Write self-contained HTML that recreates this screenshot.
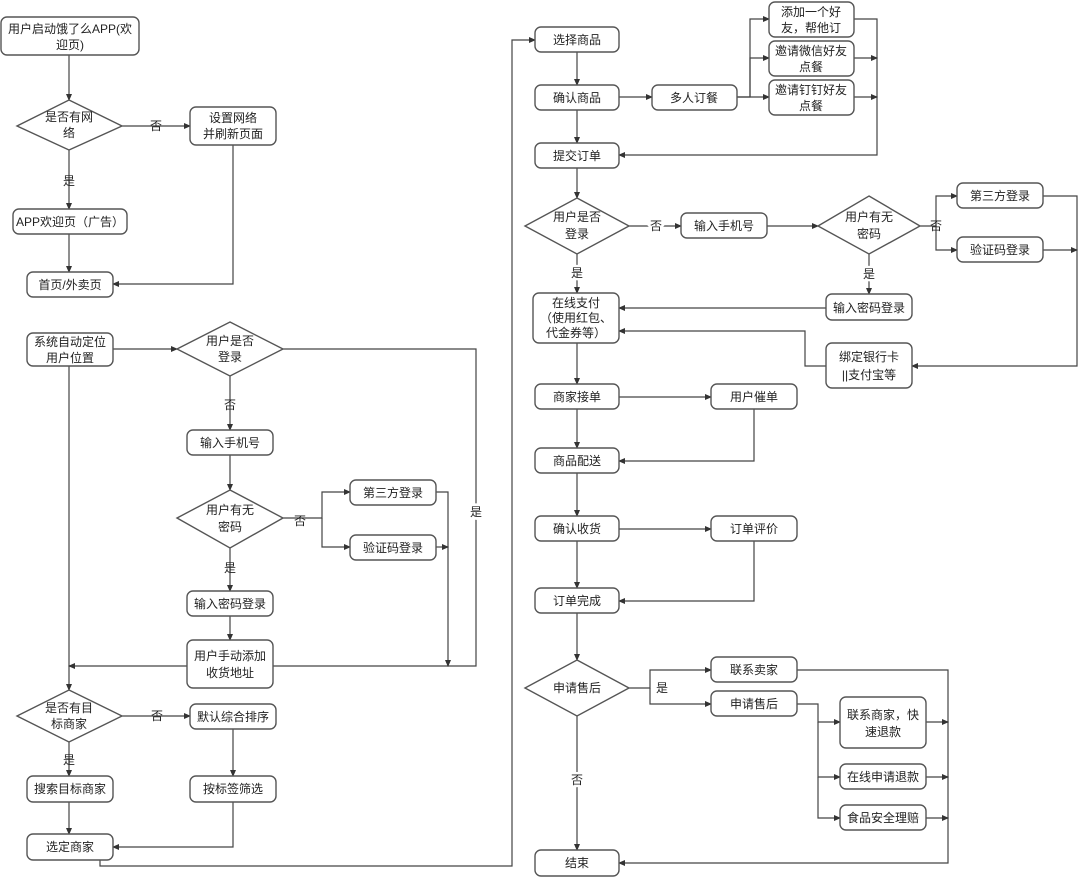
<!DOCTYPE html>
<html><head><meta charset="utf-8"><style>
html,body{margin:0;padding:0;background:#fff;}
svg{display:block}
text{font-family:"Liberation Sans","Noto Sans CJK SC",sans-serif;font-size:12px;fill:#222;text-anchor:middle;dominant-baseline:central}
.b{fill:#fff;stroke:#555;stroke-width:1.4}
.l{fill:none;stroke:#444;stroke-width:1.2}
</style></head><body>
<svg width="1080" height="878" viewBox="0 0 1080 878" xmlns="http://www.w3.org/2000/svg">
<defs><marker id="a" markerWidth="7" markerHeight="7" refX="6" refY="3.5" orient="auto" markerUnits="userSpaceOnUse"><path d="M0,0.5 L7,3.5 L0,6.5z" fill="#333"/></marker></defs>

<!-- connectors left -->
<g class="l" marker-end="url(#a)">
<path d="M69,55 V100"/>
<path d="M122,126 H190"/>
<path d="M69,150 V209"/>
<path d="M69,234 V272"/>
<path d="M233,145 V284 H113"/>
<path d="M113,349 H177"/>
<path d="M230,376 V430"/>
<path d="M230,455 V490"/>
<path d="M283,518 H322 V492 H350"/>
<path d="M322,518 V547 H350"/>
<path d="M230,548 V591"/>
<path d="M230,616 V640"/>
<path d="M69,366 V690"/>
<path d="M283,349 H476 V666 H69"/>
<path d="M436,492 H448 V666"/>
<path d="M436,547 H448"/>
<path d="M122,716 H190"/>
<path d="M69,742 V776"/>
<path d="M233,729 V776"/>
<path d="M69,802 V834"/>
<path d="M233,802 V847 H113"/>
<path d="M100,860 V866 H512 V40 H535"/>
</g>
<!-- connectors right -->
<g class="l" marker-end="url(#a)">
<path d="M577,52 V85"/>
<path d="M619,97 H652"/>
<path d="M737,97 H750 V19 H769"/>
<path d="M750,97 V58 H769"/>
<path d="M737,97 H769"/>
<path d="M854,19 H877 V155 H619"/>
<path d="M854,58 H877"/>
<path d="M854,97 H877"/>
<path d="M577,110 V143"/>
<path d="M577,168 V198"/>
<path d="M629,226 H681"/>
<path d="M767,226 H818"/>
<path d="M920,226 H936 V196 H957"/>
<path d="M936,226 V250 H957"/>
<path d="M869,254 V294"/>
<path d="M577,254 V293"/>
<path d="M826,308 H619"/>
<path d="M1043,196 H1077 V366 H912"/>
<path d="M1043,250 H1077"/>
<path d="M826,366 H805 V331 H619"/>
<path d="M577,343 V384"/>
<path d="M619,397 H711"/>
<path d="M754,409 V461 H619"/>
<path d="M577,409 V448"/>
<path d="M577,473 V516"/>
<path d="M619,529 H711"/>
<path d="M754,541 V601 H619"/>
<path d="M577,541 V588"/>
<path d="M577,613 V660"/>
<path d="M629,688 H650 V670 H711"/>
<path d="M650,688 V704 H711"/>
<path d="M797,704 H818 V722 H840"/>
<path d="M818,722 V777 H840"/>
<path d="M818,777 V818 H840"/>
<path d="M577,716 V850"/>
<path d="M797,670 H948 V863 H619"/>
<path d="M926,722 H948"/>
<path d="M926,777 H948"/>
<path d="M926,818 H948"/>
</g>

<!-- left nodes -->
<rect class="b" x="1" y="17" width="138" height="38" rx="6"/><text x="70" y="29">用户启动饿了么APP(欢</text><text x="70" y="45">迎页)</text>
<polygon class="b" points="69,100 122,126 69,150 17,126"/><text x="69" y="117">是否有网</text><text x="69" y="133">络</text>
<text x="156" y="126" style="fill:#222">否</text>
<rect class="b" x="190" y="107" width="86" height="38" rx="6"/><text x="233" y="118">设置网络</text><text x="233" y="134">并刷新页面</text>
<text x="69" y="181">是</text>
<rect class="b" x="13" y="209" width="114" height="25" rx="6"/><text x="70" y="222">APP欢迎页（广告）</text>
<rect class="b" x="27" y="272" width="86" height="25" rx="6"/><text x="70" y="285">首页/外卖页</text>
<rect class="b" x="27" y="333" width="86" height="33" rx="6"/><text x="70" y="342">系统自动定位</text><text x="70" y="358">用户位置</text>
<polygon class="b" points="230,322 283,349 230,376 177,349"/><text x="230" y="341">用户是否</text><text x="230" y="357">登录</text>
<text x="230" y="405">否</text>
<rect class="b" x="187" y="430" width="86" height="25" rx="6"/><text x="230" y="443">输入手机号</text>
<polygon class="b" points="230,490 283,518 230,548 177,518"/><text x="230" y="510">用户有无</text><text x="230" y="527">密码</text>
<text x="300" y="521">否</text>
<rect class="b" x="350" y="480" width="86" height="25" rx="6"/><text x="393" y="493">第三方登录</text>
<rect class="b" x="350" y="535" width="86" height="25" rx="6"/><text x="393" y="548">验证码登录</text>
<text x="476" y="512" style="stroke:#fff;stroke-width:6;paint-order:stroke">是</text>
<text x="230" y="568">是</text>
<rect class="b" x="187" y="591" width="86" height="25" rx="6"/><text x="230" y="604">输入密码登录</text>
<rect class="b" x="187" y="640" width="86" height="48" rx="6"/><text x="230" y="656">用户手动添加</text><text x="230" y="673">收货地址</text>
<polygon class="b" points="69,690 122,716 69,742 17,716"/><text x="69" y="708">是否有目</text><text x="69" y="724">标商家</text>
<text x="157" y="716">否</text>
<rect class="b" x="190" y="704" width="86" height="25" rx="6"/><text x="233" y="717">默认综合排序</text>
<text x="69" y="760">是</text>
<rect class="b" x="27" y="776" width="86" height="26" rx="6"/><text x="70" y="789">搜索目标商家</text>
<rect class="b" x="190" y="776" width="86" height="26" rx="6"/><text x="233" y="789">按标签筛选</text>
<rect class="b" x="27" y="834" width="86" height="26" rx="6"/><text x="70" y="847">选定商家</text>

<!-- right nodes -->
<rect class="b" x="535" y="27" width="84" height="25" rx="6"/><text x="577" y="40">选择商品</text>
<rect class="b" x="535" y="85" width="84" height="25" rx="6"/><text x="577" y="98">确认商品</text>
<rect class="b" x="652" y="85" width="85" height="25" rx="6"/><text x="694" y="98">多人订餐</text>
<rect class="b" x="769" y="2" width="85" height="35" rx="6"/><text x="811" y="12">添加一个好</text><text x="811" y="28">友，帮他订</text>
<rect class="b" x="769" y="41" width="85" height="35" rx="6"/><text x="811" y="51">邀请微信好友</text><text x="811" y="67">点餐</text>
<rect class="b" x="769" y="80" width="85" height="35" rx="6"/><text x="811" y="90">邀请钉钉好友</text><text x="811" y="106">点餐</text>
<rect class="b" x="535" y="143" width="84" height="25" rx="6"/><text x="577" y="156">提交订单</text>
<polygon class="b" points="577,198 629,226 577,254 525,226"/><text x="577" y="217">用户是否</text><text x="577" y="234">登录</text>
<text x="656" y="226" style="stroke:#fff;stroke-width:5;paint-order:stroke">否</text>
<rect class="b" x="681" y="213" width="86" height="25" rx="6"/><text x="724" y="226">输入手机号</text>
<polygon class="b" points="869,196 920,226 869,254 818,226"/><text x="869" y="217">用户有无</text><text x="869" y="234">密码</text>
<text x="936" y="226">否</text>
<rect class="b" x="957" y="183" width="86" height="25" rx="6"/><text x="1000" y="196">第三方登录</text>
<rect class="b" x="957" y="237" width="86" height="25" rx="6"/><text x="1000" y="250">验证码登录</text>
<text x="577" y="273" style="stroke:#fff;stroke-width:5;paint-order:stroke">是</text>
<text x="869" y="274" style="stroke:#fff;stroke-width:5;paint-order:stroke">是</text>
<rect class="b" x="826" y="294" width="86" height="26" rx="6"/><text x="869" y="308">输入密码登录</text>
<rect class="b" x="533" y="293" width="86" height="50" rx="6"/><text x="576" y="303">在线支付</text><text x="576" y="318">（使用红包、</text><text x="576" y="333">代金券等）</text>
<rect class="b" x="826" y="343" width="86" height="45" rx="6"/><text x="869" y="357">绑定银行卡</text><text x="869" y="375">||支付宝等</text>
<rect class="b" x="535" y="384" width="84" height="25" rx="6"/><text x="577" y="397">商家接单</text>
<rect class="b" x="711" y="384" width="86" height="25" rx="6"/><text x="754" y="397">用户催单</text>
<rect class="b" x="535" y="448" width="84" height="25" rx="6"/><text x="577" y="461">商品配送</text>
<rect class="b" x="535" y="516" width="84" height="25" rx="6"/><text x="577" y="529">确认收货</text>
<rect class="b" x="711" y="516" width="86" height="25" rx="6"/><text x="754" y="529">订单评价</text>
<rect class="b" x="535" y="588" width="84" height="25" rx="6"/><text x="577" y="601">订单完成</text>
<polygon class="b" points="577,660 629,688 577,716 525,688"/><text x="577" y="688">申请售后</text>
<text x="662" y="688">是</text>
<rect class="b" x="711" y="657" width="86" height="25" rx="6"/><text x="754" y="670">联系卖家</text>
<rect class="b" x="711" y="691" width="86" height="25" rx="6"/><text x="754" y="704">申请售后</text>
<rect class="b" x="840" y="697" width="86" height="51" rx="6"/><text x="883" y="715">联系商家，快</text><text x="883" y="732">速退款</text>
<rect class="b" x="840" y="764" width="86" height="25" rx="6"/><text x="883" y="777">在线申请退款</text>
<rect class="b" x="840" y="805" width="86" height="25" rx="6"/><text x="883" y="818">食品安全理赔</text>
<text x="577" y="780" style="stroke:#fff;stroke-width:5;paint-order:stroke">否</text>
<rect class="b" x="535" y="850" width="84" height="26" rx="6"/><text x="577" y="863">结束</text>
</svg>
</body></html>
